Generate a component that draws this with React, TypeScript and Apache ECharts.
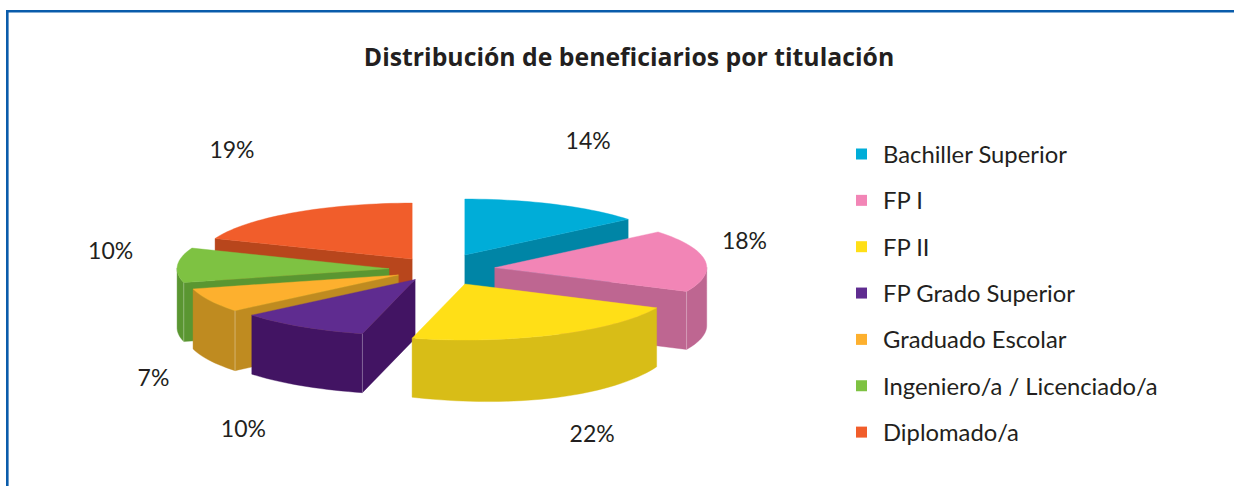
import React, { useEffect, useRef } from "react";
import * as echarts from "echarts";

const TITLE = "Distribución de beneficiarios por titulación";
const categories = ["Bachiller Superior", "FP I", "FP II", "FP Grado Superior", "Graduado Escolar", "Ingeniero/a / Licenciado/a", "Diplomado/a"];
const shares = [14, 18, 22, 10, 7, 10, 19];
// explosion of each slice, as a fraction of the pie radius
const explosion = [0.286, 0.265, 0.286, 0.21, 0.215, 0.236, 0.225];
// wall height of each slice, and how far its rim bulges down in the middle
const thickness = [59, 58, 59, 59, 60, 59, 59];
const rimBulge = [0, 0, 4, 0, 0, 0, 0];

const topColors = ["#00ADD8", "#F285B6", "#FFDF17", "#5F2C90", "#FDB02E", "#7EC242", "#F15D2B"];
const sideColors = ["#0085A6", "#BE6691", "#D8BD17", "#421463", "#BF8B20", "#5A9631", "#B8461C"];
// small hand adjustments of the percentage labels around their computed place
const labelNudge = [[2, 3], [-33, -11], [6, 1], [-19, 9], [9, 13], [6, -11], [-20, -3]];

const FONT = "Lato";
const INK = "#231F20";
const FRAME = "#0A5CAB";
const CX = 439, CY = 269.5, RX = 212, RY = 56;
const LABEL_RX = 285, LABEL_RY = 130, LABEL_DROP = 30;
const total = shares.reduce((a, b) => a + b, 0);
const rad = (d: number) => (d * Math.PI) / 180;

function sliceAngles(i: number) {
  const before = shares.slice(0, i).reduce((a, b) => a + b, 0);
  const start = (before / total) * 360;
  const end = ((before + shares[i]) / total) * 360;
  return { start, end, mid: (start + end) / 2 };
}
function apexOf(i: number) {
  const { mid } = sliceAngles(i);
  return [CX + explosion[i] * RX * Math.sin(rad(mid)), CY - explosion[i] * RY * Math.cos(rad(mid))];
}

function renderSlice(i: number) {
  return (_p: any, api: any) => {
    const value = api.value(0);
    const { start, mid } = sliceAngles(i);
    const end = start + (value / total) * 360;
    const [px, py] = apexOf(i);
    const arcFrom = 1, steps = Math.max(4, Math.ceil((end - start) / 2));
    const arcTo = arcFrom + steps;
    const outline: number[][] = [[px, py]];
    for (let s = 0; s <= steps; s++) {
      const a = rad(start + ((end - start) * s) / steps);
      outline.push([px + RX * Math.sin(a), py - RY * Math.cos(a)]);
    }
    outline.push([px, py]);
    // wall height at a point of the outline: thicker in the middle of the rim
    const wall = (k: number) => {
      const inRim = k >= arcFrom && k <= arcTo;
      const t = (k - arcFrom) / steps;
      return thickness[i] + (inRim ? rimBulge[i] * Math.sin(Math.PI * t) : 0);
    };
    const children: any[] = [];
    let run: number[] = [];
    const flush = () => {
      if (run.length > 1) {
        const upper = run.map((k) => outline[k]);
        const lower = run.slice().reverse().map((k) => [outline[k][0], outline[k][1] + wall(k)]);
        children.push({
          type: "polygon",
          shape: { points: upper.concat(lower) },
          style: { fill: sideColors[i], stroke: sideColors[i], lineWidth: 0.4 },
        });
      }
      run = [];
    };
    const faces = (k: number) => outline[k + 1][0] - outline[k][0] < -1e-6;
    for (let k = 0; k < outline.length - 1; k++) {
      if (faces(k)) {
        if (!run.length) run.push(k);
        run.push(k + 1);
      } else flush();
    }
    flush();
    // pale seam where a cut wall meets the rim wall
    [arcFrom, arcTo].forEach((k) => {
      if (faces(k - 1) && faces(k)) {
        children.push({
          type: "line",
          shape: { x1: outline[k][0], y1: outline[k][1], x2: outline[k][0], y2: outline[k][1] + wall(k) },
          style: { stroke: "rgba(255,255,255,0.35)", lineWidth: 1 },
        });
      }
    });
    children.push({
      type: "polygon",
      shape: { points: outline.slice(0, -1) },
      style: { fill: topColors[i], stroke: topColors[i], lineWidth: 0.4 },
    });
    const below = Math.cos(rad(mid)) < 0 ? LABEL_DROP : 0;
    children.push({
      type: "text",
      style: {
        text: `${value}%`,
        x: px + LABEL_RX * Math.sin(rad(mid)) + labelNudge[i][0],
        y: py - LABEL_RY * Math.cos(rad(mid)) + below + labelNudge[i][1],
        fill: INK,
        font: `400 23px ${FONT}`,
        textAlign: "center",
        textVerticalAlign: "middle",
      },
    });
    return { type: "group", children };
  };
}

export default function App() {
  const ref = useRef<HTMLDivElement>(null);
  useEffect(() => {
    const chart = echarts.init(ref.current!, null, { renderer: "svg" });
    const ranks = categories.map((_, i) => i).sort((a, b) => apexOf(a)[1] - apexOf(b)[1]);
    chart.setOption({
      animation: false,
      backgroundColor: "#FFFFFF",
      title: {
        text: TITLE,
        left: 624,
        top: 38,
        textAlign: "center",
        textStyle: { fontFamily: "Open Sans", fontWeight: 700, fontSize: 24.8, color: INK },
      },
      legend: {
        orient: "vertical",
        left: 856,
        top: 142,
        padding: 0,
        itemWidth: 11,
        itemHeight: 11,
        itemGap: 22.35,
        selectedMode: false,
        icon: "rect",
        data: categories,
        textStyle: { fontFamily: FONT, fontSize: 23.8, color: INK, padding: [0, 0, 0, 11], lineHeight: 24 },
      },
      graphic: [
        {
          type: "polyline",
          shape: { points: [[7.3, 486], [7.3, 11.3], [1234, 11.3]] },
          style: { stroke: FRAME, lineWidth: 2.6, fill: "none" },
        },
      ],
      series: categories.map((name, i) => ({
        type: "custom",
        name,
        coordinateSystem: "none",
        renderItem: renderSlice(i),
        data: [shares[i]],
        itemStyle: { color: topColors[i] },
        z: 2 + ranks.indexOf(i),
        silent: true,
      })),
    });
    return () => chart.dispose();
  }, []);
  return <div ref={ref} style={{ position: "absolute", left: 0, top: 0, width: 1234, height: 486 }} />;
}
